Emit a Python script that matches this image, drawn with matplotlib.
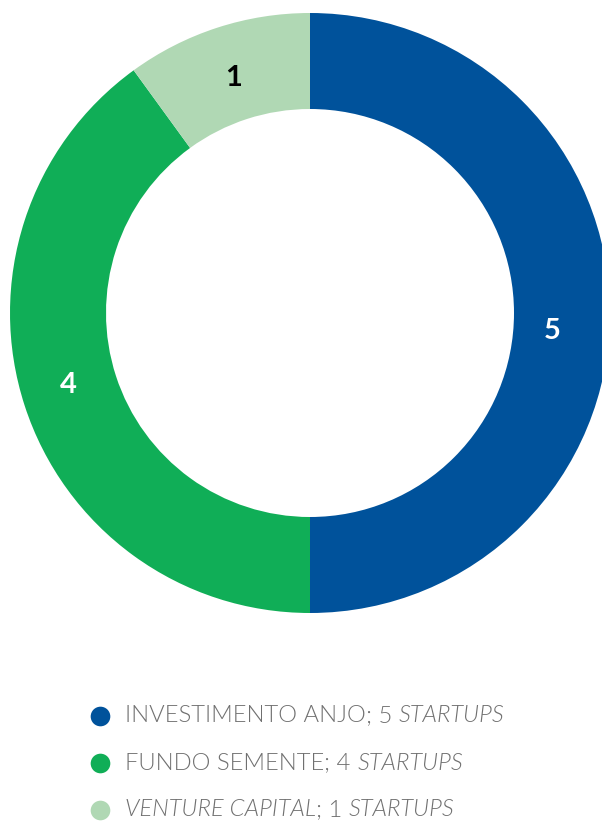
import matplotlib.pyplot as plt
import matplotlib.transforms as mtransforms

categories = ['INVESTIMENTO ANJO', 'FUNDO SEMENTE', 'VENTURE CAPITAL']
values = [5, 4, 1]
colors = ['#00529b', '#10ae57', '#b0d8b4']
label_colors = ['white', 'white', 'black']
italic_category = [False, False, True]

W, H = 602, 823
fig = plt.figure(figsize=(W / 100, H / 100), dpi=100)

# donut
ax = fig.add_axes([10 / W, 210 / H, 600 / W, 600 / H])
wedges, texts = ax.pie(values, colors=colors, startangle=90, counterclock=False,
                       labels=[str(v) for v in values], labeldistance=0.825,
                       wedgeprops=dict(width=0.32, linewidth=0),
                       textprops=dict(fontfamily='Lato', fontweight='bold', fontsize=21))
for t, c in zip(texts, label_colors):
    t.set_color(c)
    t.set_ha('center')
    t.set_va('center')
# the "5" sits a little below the slice middle in the original
texts[0].set_transform(mtransforms.offset_copy(ax.transData, fig=fig, x=-5, y=-18, units='dots'))
texts[1].set_transform(mtransforms.offset_copy(ax.transData, fig=fig, x=-6, y=4, units='dots'))
ax.set_xlim(-1, 1)
ax.set_ylim(-1, 1)
ax.set_aspect('equal')
ax.axis('off')

# legend drawn in pixel coords
lax = fig.add_axes([0, 0, 1, 1])
lax.set_xlim(0, W)
lax.set_ylim(H, 0)
lax.axis('off')

row_y = [716, 763, 810]
fig.canvas.draw()
renderer = fig.canvas.get_renderer()
gray = '#707070'
for i, cat in enumerate(categories):
    y = row_y[i]
    lax.scatter([100], [y], s=200, color=colors[i], linewidths=0)
    pieces = [(cat, italic_category[i]), ('; %d ' % values[i], False), ('STARTUPS', True)]
    x = 125
    for txt, ital in pieces:
        t = lax.text(x, y, txt, fontfamily='Lato', fontweight=300, fontsize=17.1,
                     style='italic' if ital else 'normal', color=gray,
                     ha='left', va='center')
        bb = t.get_window_extent(renderer=renderer)
        x = x + bb.width  # axes in pixel units, 1 px = 1 data unit

fig.savefig('out.png', dpi=100)
